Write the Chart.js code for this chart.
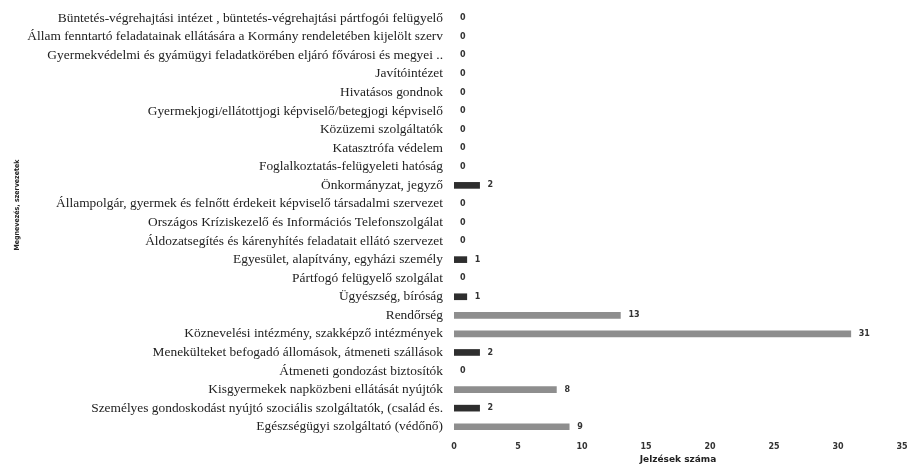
<!DOCTYPE html>
<html>
<head>
<meta charset="utf-8">
<script src="https://cdn.jsdelivr.net/npm/chart.js@4.4.1/dist/chart.umd.min.js"></script>
<style>
html,body{margin:0;padding:0;background:#fff;}
#wrap{width:910px;height:465px;position:relative;}
</style>
</head>
<body>
<div id="wrap"><canvas id="c" width="910" height="465"></canvas></div>
<script>
const categories = [
  "Büntetés-végrehajtási intézet , büntetés-végrehajtási pártfogói felügyelő",
  "Állam fenntartó feladatainak ellátására a Kormány rendeletében kijelölt szerv",
  "Gyermekvédelmi és gyámügyi feladatkörében eljáró fővárosi és megyei ..",
  "Javítóintézet",
  "Hivatásos gondnok",
  "Gyermekjogi/ellátottjogi képviselő/betegjogi képviselő",
  "Közüzemi szolgáltatók",
  "Katasztrófa védelem",
  "Foglalkoztatás-felügyeleti hatóság",
  "Önkormányzat, jegyző",
  "Állampolgár, gyermek és felnőtt érdekeit képviselő társadalmi szervezet",
  "Országos Kríziskezelő és Információs Telefonszolgálat",
  "Áldozatsegítés és kárenyhítés feladatait ellátó szervezet",
  "Egyesület, alapítvány, egyházi személy",
  "Pártfogó felügyelő szolgálat",
  "Ügyészség, bíróság",
  "Rendőrség",
  "Köznevelési intézmény, szakképző intézmények",
  "Menekülteket befogadó állomások, átmeneti szállások",
  "Átmeneti gondozást biztosítók",
  "Kisgyermekek napközbeni ellátását nyújtók",
  "Személyes gondoskodást nyújtó szociális szolgáltatók, (család és.",
  "Egészségügyi szolgáltató (védőnő)"
];
const values = [0,0,0,0,0,0,0,0,0,2,0,0,0,1,0,1,13,31,2,0,8,2,9];
const xTicks = [0,5,10,15,20,25,30,35];
const xTitle = "Jelzések száma";
const yTitle = "Megnevezés, szervezetek";

const valueLabels = {
  id: 'valueLabels',
  afterDatasetsDraw(chart) {
    const ctx = chart.ctx;
    const meta = chart.getDatasetMeta(0);
    const xs = chart.scales.x;
    ctx.save();
    ctx.font = 'bold 8px "DejaVu Sans", sans-serif';
    ctx.fillStyle = '#333';
    ctx.textAlign = 'left';
    ctx.textBaseline = 'middle';
    meta.data.forEach((bar, i) => {
      const v = values[i];
      const x = xs.getPixelForValue(v) + (v === 0 ? 6 : 8);
      ctx.fillText(String(v), x, bar.y);
    });
    // y axis title
    ctx.translate(17, 205);
    ctx.rotate(-Math.PI / 2);
    ctx.font = 'bold 7px "DejaVu Sans Condensed", "DejaVu Sans", sans-serif';
    ctx.fillStyle = '#222';
    ctx.textAlign = 'center';
    ctx.fillText(yTitle, 0, 0);
    ctx.restore();
  }
};

new Chart(document.getElementById('c'), {
  type: 'bar',
  data: {
    labels: categories,
    datasets: [{
      data: values,
      backgroundColor: ctx => (ctx.raw === 0 ? 'rgba(0,0,0,0)' : ctx.raw >= 5 ? '#8e8e8e' : '#2e2e2e'),
      borderWidth: 0,
      barThickness: 6
    }]
  },
  options: {
    indexAxis: 'y',
    responsive: false,
    animation: false,
    devicePixelRatio: 1,
    layout: { padding: { left: 0, right: 8, top: 9, bottom: 0 } },
    plugins: { legend: { display: false }, tooltip: { enabled: false } },
    scales: {
      x: {
        min: 0, max: 35,
        afterBuildTicks: s => { s.ticks = xTicks.map(v => ({ value: v })); },
        grid: { display: false, drawTicks: false },
        border: { display: false },
        ticks: { color: '#333', font: { family: '"DejaVu Sans", sans-serif', size: 8, weight: 'bold' }, padding: 6 },
        title: { display: true, text: xTitle, color: '#222', font: { family: '"DejaVu Sans", sans-serif', size: 9, weight: 'bold' }, padding: { top: 1, bottom: 0 } },
        afterFit: s => { s.height = 29; s.paddingLeft = 0; s.paddingRight = 0; }
      },
      y: {
        grid: { display: false, drawTicks: false },
        border: { display: false },
        ticks: { color: '#222', autoSkip: false, font: { family: '"Liberation Serif", serif', size: 13.4 }, padding: 11 },
        title: { display: false },
        afterFit: s => { s.width = 454; s.paddingTop = 0; s.paddingBottom = 0; }
      }
    }
  },
  plugins: [valueLabels]
});
</script>
</body>
</html>
